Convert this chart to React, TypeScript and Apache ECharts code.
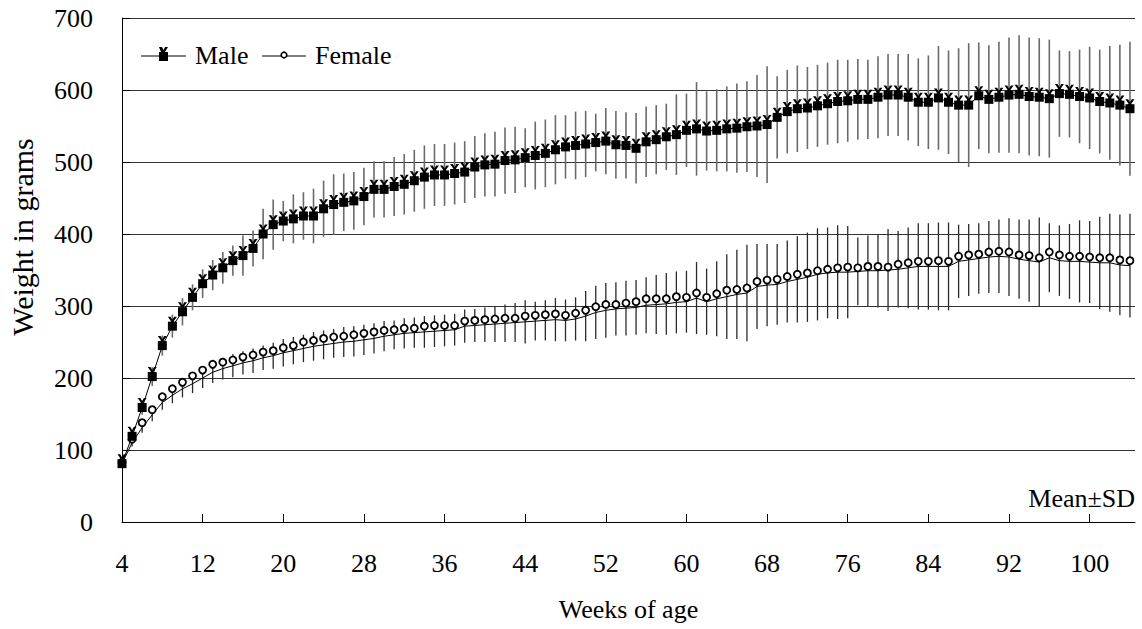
import React, { useEffect, useRef } from "react";
import * as echarts from "echarts";

const FONT = "Liberation Serif, Times New Roman, serif";

const firstWeek = 4;
const xTicks = [4, 12, 20, 28, 36, 44, 52, 60, 68, 76, 84, 92, 100];

// Male mean body weight (g), weeks 4..104
const maleMean = [
  81, 119, 159, 202, 245, 272, 292, 312, 331, 343, 353, 363, 370, 380, 400, 413, 418, 421, 425, 425,
  435, 441, 444, 446, 452, 462, 462, 466, 469, 474, 479, 482, 482, 484, 486, 493, 496, 497, 502, 503,
  506, 509, 512, 517, 521, 523, 525, 527, 529, 524, 523, 519, 528, 531, 535, 538, 544, 546, 543, 544,
  546, 547, 549, 550, 552, 562, 570, 574, 575, 578, 581, 584, 585, 587, 587, 590, 593, 593, 590, 583,
  583, 589, 583, 579, 579, 592, 587, 590, 593, 594, 591, 590, 588, 595, 594, 591, 589, 584, 582, 579,
  574,
];
const maleSD = [
  3, 6, 10, 13, 14, 16, 19, 18, 20, 21, 22, 21, 28, 25, 35, 35, 28, 34, 33, 38,
  39, 42, 40, 40, 40, 39, 39, 41, 42, 43, 44, 43, 43, 43, 43, 43, 44, 45, 46, 46,
  41, 47, 47, 48, 44, 47, 46, 40, 46, 47, 46, 49, 49, 48, 46, 56, 51, 65, 55, 57,
  59, 62, 63, 71, 81, 57, 58, 60, 57, 57, 57, 58, 57, 56, 55, 57, 57, 57, 60, 61,
  65, 72, 72, 79, 86, 74, 75, 77, 80, 82, 82, 82, 82, 60, 60, 65, 71, 72, 79, 84,
  93,
];
// Female mean (line) and plotted circle markers
const femaleMean = [
  81, 110, 131, 149, 166, 176, 185, 192, 200, 208, 213, 217, 221, 224, 228, 231, 235, 238, 241, 244,
  246, 248, 250, 251, 253, 255, 258, 260, 262, 263, 264, 265, 266, 267, 272, 273, 274, 275, 276, 277,
  278, 279, 280, 281, 280, 282, 286, 291, 294, 296, 297, 298, 301, 302, 303, 305, 306, 311, 306, 310,
  313, 316, 318, 327, 329, 330, 334, 337, 340, 344, 346, 347, 347, 348, 349, 349, 350, 351, 353, 355,
  355, 355, 355, 362, 364, 366, 368, 369, 368, 365, 363, 361, 367, 363, 362, 362, 361, 360, 360, 357,
  356,
];
const femaleMarker = [
  83, 115, 138, 156, 174, 185, 194, 203, 211, 219, 222, 225, 229, 232, 236, 238, 242, 245, 250, 252,
  255, 257, 258, 260, 262, 264, 266, 267, 269, 269, 272, 273, 273, 273, 279, 280, 281, 282, 283, 283,
  286, 287, 288, 289, 287, 290, 294, 299, 302, 302, 304, 306, 310, 310, 310, 313, 312, 318, 312, 317,
  322, 323, 325, 334, 336, 337, 341, 344, 346, 349, 351, 353, 354, 353, 355, 355, 354, 358, 360, 362,
  362, 363, 362, 369, 371, 372, 375, 376, 375, 371, 370, 367, 375, 371, 369, 369, 368, 367, 367, 364,
  363,
];
const femaleSD = [
  3, 5, 7, 9, 10, 11, 12, 13, 14, 15, 15, 16, 16, 17, 17, 18, 19, 19, 19, 20,
  20, 20, 21, 21, 21, 21, 21, 20, 21, 21, 22, 22, 22, 22, 23, 23, 24, 25, 26, 27,
  30, 27, 28, 30, 29, 30, 35, 37, 38, 37, 38, 38, 39, 41, 43, 43, 43, 50, 46, 52,
  59, 62, 67, 59, 57, 56, 57, 60, 62, 64, 63, 65, 64, 47, 49, 51, 57, 53, 56, 60,
  60, 61, 61, 51, 50, 49, 50, 51, 54, 55, 57, 62, 48, 49, 52, 57, 57, 64, 68, 70,
  72,
];

const weeks = maleMean.map((_, i) => firstWeek + i);

const X_PATH =
  "path://M0,0L3,0L5,3.5L7,0L10,0L6.5,5L10,10L7,10L5,6.5L3,10L0,10L3.5,5Z";

function errorBar(color: string, width: number) {
  return (params: any, api: any) => {
    const x = api.value(0);
    const p1 = api.coord([x, api.value(1)]);
    const p2 = api.coord([x, api.value(2)]);
    return {
      type: "line",
      shape: { x1: p1[0], y1: p1[1], x2: p2[0], y2: p2[1] },
      style: { stroke: color, lineWidth: width },
    };
  };
}

export default function App() {
  const ref = useRef<HTMLDivElement>(null);
  useEffect(() => {
    const chart = echarts.init(ref.current!, null, { renderer: "svg" });
    const maleBars = weeks.map((w, i) => [w, maleMean[i] - maleSD[i], maleMean[i] + maleSD[i]]);
    const femaleBars = weeks.map((w, i) => [w, femaleMean[i] - femaleSD[i], femaleMean[i] + femaleSD[i]]);
    const maleData = weeks.map((w, i) => [w, maleMean[i]]);
    const femaleLine = weeks.map((w, i) => [w, femaleMean[i]]);
    const femaleCircles = weeks.map((w, i) => [w, femaleMarker[i]]);

    const option: any = {
      animation: false,
      backgroundColor: "#fff",
      textStyle: { fontFamily: FONT },
      grid: { left: 122, right: 7, top: 18, bottom: 107, containLabel: false, outerBoundsMode: "none" },
      xAxis: {
        type: "value",
        min: 4,
        max: 104.5,
        interval: 8,
        name: "Weeks of age",
        nameLocation: "middle",
        nameGap: 74,
        nameTextStyle: { fontFamily: FONT, fontSize: 26, color: "#000" },
        axisLine: { show: true, onZero: false, lineStyle: { color: "#000", width: 1 } },
        axisTick: { show: true, inside: true, length: 8, lineStyle: { color: "#000" }, customValues: xTicks },
        axisLabel: {
          fontFamily: FONT,
          fontSize: 26,
          color: "#000",
          margin: 28,
          showMaxLabel: false,
        },
        splitLine: { show: false },
      },
      yAxis: {
        type: "value",
        min: 0,
        max: 700,
        interval: 100,
        axisLine: { show: true, lineStyle: { color: "#000", width: 1 } },
        axisTick: { show: true, inside: true, length: 8, lineStyle: { color: "#000" } },
        axisLabel: { fontFamily: FONT, fontSize: 26, color: "#000", margin: 29 },
        splitLine: { show: true, lineStyle: { color: "#333", width: 1 } },
      },
      graphic: [
        {
          type: "text",
          x: 22,
          y: 237,
          rotation: Math.PI / 2,
          style: {
            text: "Weight in grams",
            fontFamily: FONT,
            fontSize: 30,
            fill: "#000",
            align: "center",
            verticalAlign: "middle",
          },
        },
        {
          type: "text",
          x: 1135,
          y: 498,
          style: {
            text: "Mean±SD",
            fontFamily: FONT,
            fontSize: 26,
            fill: "#000",
            align: "right",
            verticalAlign: "middle",
          },
        },
        // legend: Male
        { type: "line", shape: { x1: 141, y1: 56, x2: 186, y2: 56 }, style: { stroke: "#000", lineWidth: 1.2 }, z: 100 },
        {
          type: "polygon",
          shape: { points: [[159, 47], [162, 47], [163.5, 50], [165, 47], [168, 47], [165, 52], [161, 52]] },
          style: { fill: "#000" },
          z: 100,
        },
        { type: "rect", shape: { x: 159, y: 52, width: 9, height: 9 }, style: { fill: "#000" }, z: 100 },
        {
          type: "text",
          x: 195,
          y: 55,
          style: { text: "Male", fontFamily: FONT, fontSize: 26, fill: "#000", verticalAlign: "middle" },
          z: 100,
        },
        // legend: Female
        { type: "line", shape: { x1: 262, y1: 56, x2: 306, y2: 56 }, style: { stroke: "#000", lineWidth: 1.2 }, z: 100 },
        { type: "circle", shape: { cx: 284, cy: 55, r: 2.8 }, style: { fill: "#fff", stroke: "#000", lineWidth: 1.6 }, z: 100 },
        {
          type: "text",
          x: 315,
          y: 55,
          style: { text: "Female", fontFamily: FONT, fontSize: 26, fill: "#000", verticalAlign: "middle" },
          z: 100,
        },
      ],
      series: [
        {
          name: "Female SD",
          type: "custom",
          renderItem: errorBar("#2a2a2a", 1.3),
          data: femaleBars,
          encode: { x: 0, y: [1, 2] },
          z: 1,
          silent: true,
        },
        {
          name: "Male SD",
          type: "custom",
          renderItem: errorBar("#6a6a6a", 1.6),
          data: maleBars,
          encode: { x: 0, y: [1, 2] },
          z: 2,
          silent: true,
        },
        {
          name: "Female",
          type: "line",
          data: femaleLine,
          showSymbol: false,
          symbol: "none",
          lineStyle: { color: "#000", width: 1 },
          z: 3,
        },
        {
          name: "Female markers",
          type: "scatter",
          data: femaleCircles,
          symbol: "circle",
          symbolSize: 7,
          itemStyle: { color: "#fff", borderColor: "#000", borderWidth: 1.8, opacity: 1 },
          z: 4,
        },
        {
          name: "Male",
          type: "line",
          data: maleData,
          showSymbol: false,
          symbol: "none",
          lineStyle: { color: "#000", width: 1 },
          z: 5,
        },
        {
          name: "Male X",
          type: "scatter",
          data: maleData,
          symbol: X_PATH,
          symbolSize: 9,
          symbolOffset: [0, -5],
          itemStyle: { color: "#000", opacity: 1 },
          z: 6,
        },
        {
          name: "Male markers",
          type: "scatter",
          data: maleData,
          symbol: "rect",
          symbolSize: 9,
          itemStyle: { color: "#000", opacity: 1 },
          z: 7,
        },
      ],
    };
    chart.setOption(option);
    return () => chart.dispose();
  }, []);
  return (
    <div
      ref={ref}
      style={{ position: "fixed", left: 0, top: 0, width: 1142, height: 629, background: "#fff" }}
    />
  );
}
